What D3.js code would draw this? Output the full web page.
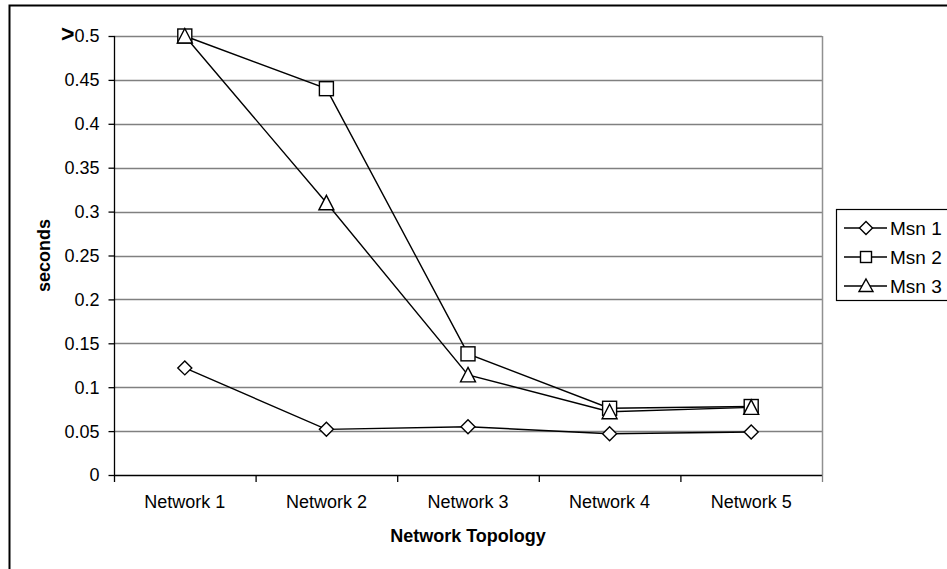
<!DOCTYPE html>
<html><head><meta charset="utf-8">
<script src="https://cdn.jsdelivr.net/npm/d3@7"></script>
<style>body{margin:0;background:#fff}svg{display:block;font-family:"Liberation Sans",Arial,sans-serif}</style>
</head><body><svg id="c" width="947" height="569"></svg>
<script>
const categories = ["Network 1","Network 2","Network 3","Network 4","Network 5"];
const msn1 = [0.122, 0.052, 0.055, 0.047, 0.049];
const msn2 = [0.5, 0.44, 0.138, 0.076, 0.078];
const msn3 = [0.5, 0.31, 0.114, 0.072, 0.077];
const seriesNames = ["Msn 1","Msn 2","Msn 3"];
const seriesShapes = ["diamond","square","triangle"];
const yTicks = [0,0.05,0.1,0.15,0.2,0.25,0.3,0.35,0.4,0.45,0.5];
const yTickLabels = ["0","0.05","0.1","0.15","0.2","0.25","0.3","0.35","0.4","0.45",">0.5"];

const FONT = "'Liberation Sans',Arial,sans-serif";
const FS = 18;
const svg = d3.select("#c");
const L=114, R=822, T=36, B=475;
const x = d3.scaleBand().domain(categories).range([L,R]);
const y = d3.scaleLinear().domain([0,0.5]).range([B,T]);

// outer border
svg.append("rect").attr("x",9.5).attr("y",5.5).attr("width",1000).attr("height",700)
  .attr("fill","none").attr("stroke","#000").attr("stroke-width",2);

// gridlines
svg.append("g").selectAll("line").data(yTicks.filter(d=>d>0)).join("line")
  .attr("x1",L).attr("x2",R).attr("y1",d=>Math.round(y(d))+0.5).attr("y2",d=>Math.round(y(d))+0.5)
  .attr("stroke","#808080").attr("stroke-width",1.3);
// right border of plot
svg.append("line").attr("x1",R+0.5).attr("x2",R+0.5).attr("y1",T).attr("y2",B)
  .attr("stroke","#909090").attr("stroke-width",1.5);

// y axis
const yAxis = svg.append("g").attr("transform",`translate(${L+0.5},0)`)
  .call(d3.axisLeft(y).tickValues(yTicks).tickSize(6).tickPadding(9).tickFormat((d,i)=>yTickLabels[i]));
yAxis.attr("font-size",FS).attr("font-family",FONT);
yAxis.select(".domain").attr("stroke","#000").attr("stroke-width",1.3).attr("d",`M0,${T}V${B+0.5}`);
yAxis.selectAll(".tick line").attr("stroke","#000").attr("stroke-width",1.3);
yAxis.selectAll(".tick text").attr("fill","#000").attr("dy","0.33em")
  .each(function(d,i){
    const t=d3.select(this); const s=yTickLabels[i];
    if(s.startsWith(">")){ t.text(null);
      t.append("tspan").attr("font-weight","bold").attr("font-size",23).text(">");
      t.append("tspan").text(s.slice(1)); }
  });

// x axis
const xAxis = svg.append("g").attr("transform",`translate(0,${B+0.5})`)
  .call(d3.axisBottom(x).tickSize(0));
xAxis.attr("font-size",FS).attr("font-family",FONT);
xAxis.select(".domain").attr("stroke","#000").attr("stroke-width",1.3).attr("d",`M${L},0H${R}`);
xAxis.selectAll(".tick text").attr("fill","#000").attr("y",32).attr("dy",0);
const bounds = categories.map(c=>x(c)).concat([R]);
svg.append("g").selectAll("line").data(bounds).join("line")
  .attr("x1",d=>d+0.5).attr("x2",d=>d+0.5).attr("y1",B).attr("y2",B+7)
  .attr("stroke",(d,i)=>i===bounds.length-1?"#808080":"#000").attr("stroke-width",1.3);

// titles
svg.append("text").attr("x",(L+R)/2).attr("y",542).attr("text-anchor","middle")
  .attr("font-size",FS).attr("font-weight","bold").text("Network Topology");
svg.append("text").attr("transform",`translate(50,${(T+B)/2}) rotate(-90)`).attr("text-anchor","middle")
  .attr("font-size",FS).attr("font-weight","bold").text("seconds");

function marker(g, shape, cx, cy){
  if(shape==="diamond") g.append("path").attr("d",`M${cx},${cy-7}L${cx+7},${cy}L${cx},${cy+7}L${cx-7},${cy}Z`);
  else if(shape==="square") g.append("rect").attr("x",cx-7).attr("y",cy-7).attr("width",14).attr("height",14);
  else g.append("path").attr("d",`M${cx},${cy-7.5}L${cx+7.5},${cy+7}L${cx-7.5},${cy+7}Z`);
}
const allSeries=[msn1,msn2,msn3];
const line = d3.line().x((d,i)=>x(categories[i])+x.bandwidth()/2).y(d=>y(d));
allSeries.forEach((s,k)=>{
  svg.append("path").attr("d",line(s)).attr("fill","none").attr("stroke","#000").attr("stroke-width",1.4);
});
allSeries.forEach((s,k)=>{
  const g=svg.append("g").attr("fill","#fff").attr("stroke","#000").attr("stroke-width",1.4);
  s.forEach((v,i)=>marker(g,seriesShapes[k],x(categories[i])+x.bandwidth()/2,y(v)));
});

// legend
const lg = svg.append("g");
lg.append("rect").attr("x",836.5).attr("y",209.5).attr("width",112).attr("height",91)
  .attr("fill","#fff").attr("stroke","#000").attr("stroke-width",1.2);
seriesNames.forEach((n,k)=>{
  const yy=228+k*29;
  lg.append("line").attr("x1",844).attr("x2",887).attr("y1",yy).attr("y2",yy).attr("stroke","#000").attr("stroke-width",1.4);
  const g=lg.append("g").attr("fill","#fff").attr("stroke","#000").attr("stroke-width",1.4);
  const sh=seriesShapes[k], cx=866;
  if(sh==="diamond") g.append("path").attr("d",`M${cx},${yy-6.5}L${cx+6.5},${yy}L${cx},${yy+6.5}L${cx-6.5},${yy}Z`);
  else if(sh==="square") g.append("rect").attr("x",cx-5.5).attr("y",yy-5.5).attr("width",11).attr("height",11);
  else g.append("path").attr("d",`M${cx},${yy-7}L${cx+7},${yy+5.5}L${cx-7},${yy+5.5}Z`);
  lg.append("text").attr("x",890).attr("y",yy+6.5).attr("font-size",19).text(n);
});
</script></body></html>
